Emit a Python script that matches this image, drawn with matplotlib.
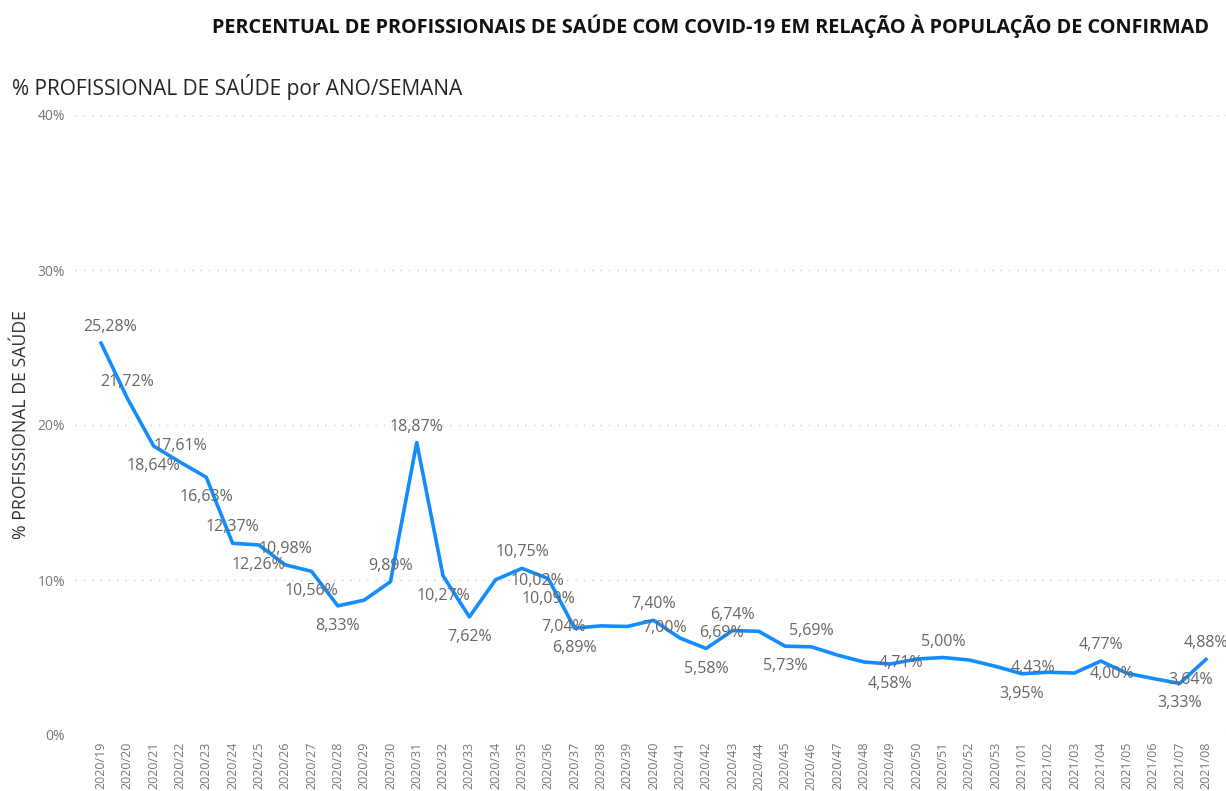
import matplotlib
matplotlib.use('Agg')
import matplotlib.pyplot as plt
import numpy as np

# semanas epidemiológicas
semanas = ['2020/%02d' % s for s in range(19, 54)] + ['2021/%02d' % s for s in range(1, 9)]

# % profissional de saúde por semana
percentual = [25.28, 21.72, 18.64, 17.61, 16.63, 12.37, 12.26, 10.98, 10.56, 8.33,
              8.70, 9.89, 18.87, 10.27, 7.62, 10.02, 10.75, 10.09, 6.89, 7.04,
              7.00, 7.40, 6.26, 5.58, 6.74, 6.69, 5.73, 5.69, 5.15, 4.71,
              4.58, 4.90, 5.00, 4.84, 4.43, 3.95, 4.05, 4.00, 4.77, 3.98,
              3.64, 3.33, 4.88]

# posição dos rótulos: a=acima, b=abaixo, l=esquerda, r=direita, None=sem rótulo
posicao = ['a', 'a', 'b', 'a', 'b', 'a', 'b', 'a', 'b', 'b',
           None, 'a', 'a', 'b', 'b', 'r', 'a', 'b', 'b', 'l',
           'r', 'a', None, 'b', 'a', 'l', 'b', 'a', None, 'r',
           'b', None, 'a', None, 'r', 'b', None, 'r', 'a', None,
           'r', 'b', 'a']

yticks = [0, 10, 20, 30, 40]

plt.rcParams['font.family'] = ['Open Sans', 'DejaVu Sans']

fig = plt.figure(figsize=(12.26, 7.91), dpi=100)
ax = fig.add_axes([75 / 1226, 56 / 791, 1151 / 1226, 620 / 791])

x = np.arange(len(semanas))
ax.plot(x, percentual, color='#118DFF', linewidth=2.6, solid_joinstyle='round', zorder=3)

px = 0.72  # 1 pixel em pontos
for i, (v, p) in enumerate(zip(percentual, posicao)):
    if p is None:
        continue
    txt = ('%.2f%%' % v).replace('.', ',')
    if p == 'a':
        off, ha = (0, 16 * px), 'center'
    elif p == 'b':
        off, ha = (0, -20 * px), 'center'
    elif p == 'r':
        off, ha = (15 * px, -1.5 * px), 'left'
    else:
        off, ha = (-15 * px, -1.5 * px), 'right'
    if i == 0:
        off = (9 * px, off[1])
    ax.annotate(txt, (i, v), xytext=off, textcoords='offset points',
                ha=ha, va='center', fontsize=11.5, color='#666666', zorder=4)

ax.set_xlim(-0.99, 42.76)
ax.set_ylim(0, 40)
ax.set_yticks(yticks)
ax.set_yticklabels(['%d%%' % t for t in yticks])
ax.set_xticks(x)
ax.set_xticklabels(semanas, rotation=90, va='top')
ax.tick_params(axis='y', length=0, pad=7, labelsize=10, labelcolor='#777777')
ax.tick_params(axis='x', length=0, pad=5, labelsize=9, labelcolor='#777777')
ax.grid(axis='y', color='#c8c8c8', linestyle=(0, (1, 5)), linewidth=1)
ax.set_axisbelow(True)
for s in ax.spines.values():
    s.set_visible(False)

ax.set_ylabel('% PROFISSIONAL DE SAÚDE', fontsize=12.7, color='#333333')
ax.yaxis.set_label_coords(-45 / 1151, 0.5)

# título cortado na borda, como no painel original
fig.text(212 / 1226, 1 - 26 / 791,
         'PERCENTUAL DE PROFISSIONAIS DE SAÚDE COM COVID-19 EM RELAÇÃO À POPULAÇÃO DE CONFIRMAD',
         fontsize=14.3, fontweight='bold', color='#111111', va='center', ha='left')
fig.text(12 / 1226, 1 - 87 / 791, '% PROFISSIONAL DE SAÚDE por ANO/SEMANA',
         fontsize=15, color='#252423', va='center', ha='left')

fig.savefig('out.png', dpi=100)
